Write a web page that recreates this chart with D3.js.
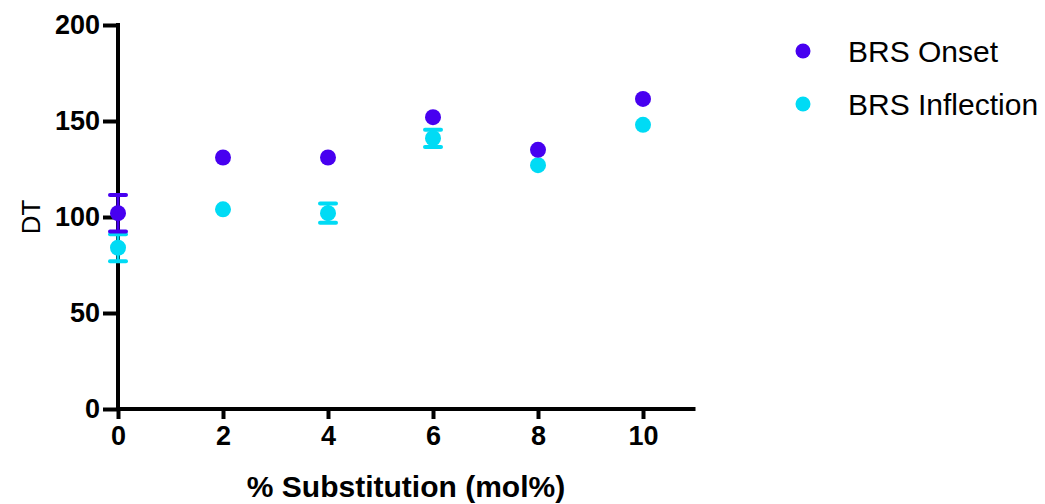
<!DOCTYPE html>
<html>
<head>
<meta charset="utf-8">
<script src="https://cdn.jsdelivr.net/npm/d3@7"></script>
<style>
  html, body { margin: 0; padding: 0; background: #fff; }
  svg { display: block; }
  text { font-family: "Liberation Sans", Arial, sans-serif; }
</style>
</head>
<body>
<svg id="chart" width="1045" height="504"></svg>
<script>
// Substitution levels (mol%)
const substitution = [0, 2, 4, 6, 8, 10];
// BRS onset DT values with error (+/-)
const onsetValues = [102, 131, 131, 152, 135, 161.5];
const onsetErrors = [9.5, 0, 0, 0, 0, 0];
// BRS inflection DT values with error (+/-)
const inflectionValues = [84, 104, 102, 141, 127, 148];
const inflectionErrors = [7, 0, 5, 4.5, 0, 0];

const xTicks = [0, 2, 4, 6, 8, 10];
const yTicks = [0, 50, 100, 150, 200];

const seriesNames = ["BRS Onset", "BRS Inflection"];
const seriesColors = ["#4700f0", "#00dbf5"];

const svg = d3.select("#chart");
const x = d3.scaleLinear().domain([0, 11]).range([118, 695.5]);
const y = d3.scaleLinear().domain([0, 200]).range([409, 25]);

// Y axis
const yAxis = svg.append("g")
  .attr("transform", `translate(${x(0)},0)`)
  .call(d3.axisLeft(y).tickValues(yTicks).tickSize(15).tickPadding(3).tickSizeOuter(0));
yAxis.select(".domain").attr("stroke", "#000").attr("stroke-width", 4)
  .attr("d", `M0,${y(0) + 2}V${y(200) - 2}`);
yAxis.selectAll(".tick line").attr("stroke", "#000").attr("stroke-width", 4);
yAxis.selectAll(".tick text")
  .attr("font-size", 27).attr("font-weight", "bold").attr("fill", "#000")
  .attr("font-family", "Liberation Sans, Arial, sans-serif");

// X axis
const xAxis = svg.append("g")
  .attr("transform", `translate(0,${y(0)})`)
  .call(d3.axisBottom(x).tickValues(xTicks).tickSize(10).tickPadding(7).tickSizeOuter(0));
xAxis.select(".domain").attr("stroke", "#000").attr("stroke-width", 4)
  .attr("d", `M${x(0) - 2},0H${x(11)}`);
xAxis.selectAll(".tick line").attr("stroke", "#000").attr("stroke-width", 4);
xAxis.selectAll(".tick text")
  .attr("font-size", 27).attr("font-weight", "bold").attr("fill", "#000")
  .attr("font-family", "Liberation Sans, Arial, sans-serif");

// Axis titles
svg.append("text")
  .attr("x", 406).attr("y", 497)
  .attr("text-anchor", "middle")
  .attr("font-size", 30).attr("font-weight", "bold")
  .text("% Substitution (mol%)");

svg.append("text")
  .attr("transform", `translate(40,${y(100)}) rotate(-90)`)
  .attr("text-anchor", "middle")
  .attr("font-size", 26)
  .text("DT");

// Data series (inflection drawn first so onset sits on top)
const series = [
  { values: onsetValues, errors: onsetErrors, color: seriesColors[0] },
  { values: inflectionValues, errors: inflectionErrors, color: seriesColors[1] }
];

[series[1], series[0]].forEach(s => {
  const pts = substitution.map((sv, i) => ({ x: sv, v: s.values[i], e: s.errors[i] }));
  const g = svg.append("g");
  const withErr = pts.filter(p => p.e > 0);
  g.selectAll("line.stem").data(withErr).join("line")
    .attr("x1", d => x(d.x)).attr("x2", d => x(d.x))
    .attr("y1", d => y(d.v + d.e)).attr("y2", d => y(d.v - d.e))
    .attr("stroke", s.color).attr("stroke-width", 3);
  ["top", "bottom"].forEach(side => {
    g.selectAll("line.cap-" + side).data(withErr).join("line")
      .attr("x1", d => x(d.x) - 8).attr("x2", d => x(d.x) + 8)
      .attr("y1", d => y(side === "top" ? d.v + d.e : d.v - d.e))
      .attr("y2", d => y(side === "top" ? d.v + d.e : d.v - d.e))
      .attr("stroke", s.color).attr("stroke-width", 4).attr("stroke-linecap", "round");
  });
  g.selectAll("circle").data(pts).join("circle")
    .attr("cx", d => x(d.x)).attr("cy", d => y(d.v))
    .attr("r", 8).attr("fill", s.color);
});

// Legend
const legend = svg.append("g");
seriesNames.forEach((name, i) => {
  const ly = 51 + i * 53;
  legend.append("circle").attr("cx", 803).attr("cy", ly).attr("r", 7.5).attr("fill", seriesColors[i]);
  legend.append("text").attr("x", 848).attr("y", ly + 11)
    .attr("font-size", 30).attr("fill", "#000").text(name);
});
</script>
</body>
</html>
